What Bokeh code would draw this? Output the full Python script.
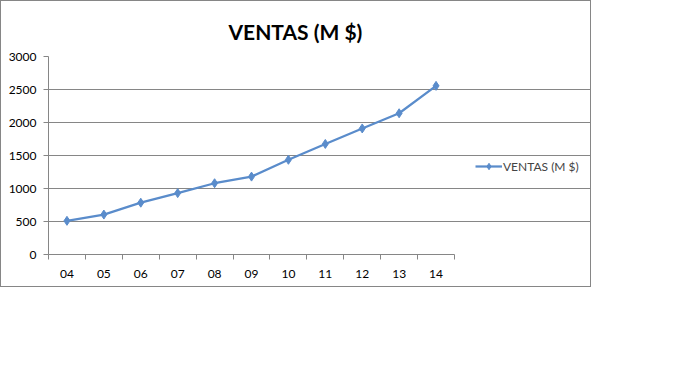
from bokeh.plotting import figure
from bokeh.models import FixedTicker, Legend, LegendItem, Range1d, Title
from bokeh.embed import file_html
from bokeh.resources import INLINE

years = ["04", "05", "06", "07", "08", "09", "10", "11", "12", "13", "14"]
ventas = [510, 605, 785, 930, 1080, 1180, 1435, 1675, 1910, 2140, 2555]
y_ticks = [0, 500, 1000, 1500, 2000, 2500, 3000]
series_name = "VENTAS (M $)"

FONT = "Lato"
GRID = "#868686"
BLUE = "#5A8CCB"

n = len(years)
xs = [i + 0.5 for i in range(n)]

# frame spans to the right edge so the legend (drawn inside it) is not clipped;
# the plotted area (axis, grid) is bounded to the 11 categories (406 px of 544 px)
x_end = n * 544 / 406

p = figure(width=591, height=287, output_backend="svg", toolbar_location=None,
           x_range=Range1d(0, x_end), y_range=Range1d(0, 3000),
           min_border_left=47, min_border_right=0, min_border_top=55, min_border_bottom=34)
p.outline_line_color = None
p.background_fill_color = "white"
p.border_fill_color = "white"
p.styles = {"border": "1px solid #868686"}

p.add_layout(Title(text=series_name, text_font=FONT, text_font_size="21px", text_font_style="bold",
                   text_color="black", align="left", offset=180, standoff=26), "above")

line = p.line(xs, ventas, line_color=BLUE, line_width=2.25)
pts = p.scatter(xs, ventas, marker="diamond", size=9, fill_color=BLUE, line_color=BLUE)

xt = FixedTicker(ticks=xs, minor_ticks=list(range(n + 1)))
p.xaxis.ticker = xt
p.xaxis.bounds = (0, n)
p.xaxis.major_label_overrides = {x: y for x, y in zip(xs, years)}
p.xaxis.major_tick_out = 0
p.xaxis.major_tick_in = 0
p.xaxis.minor_tick_out = 5
p.xaxis.minor_tick_in = 0
p.xaxis.minor_tick_line_color = GRID
p.xaxis.axis_line_color = GRID
p.xaxis.major_label_standoff = 10
p.xgrid.grid_line_color = None

p.yaxis.ticker = FixedTicker(ticks=y_ticks)
p.yaxis.major_tick_out = 5
p.yaxis.major_tick_in = 0
p.yaxis.minor_tick_line_color = None
p.yaxis.major_tick_line_color = GRID
p.yaxis.axis_line_color = GRID
p.yaxis.major_label_standoff = 7
p.ygrid.grid_line_color = GRID
p.ygrid.grid_line_width = 1
p.ygrid.bounds = (0, n)

for ax in (p.xaxis, p.yaxis):
    ax.major_label_text_font = FONT
    ax.major_label_text_font_size = "12px"
    ax.major_label_text_color = "black"

legend = Legend(items=[LegendItem(label=series_name, renderers=[line, pts])],
                location=(427, 80), padding=0, spacing=0, margin=0,
                glyph_width=27, glyph_height=16, label_standoff=1,
                label_text_font=FONT, label_text_font_size="12px",
                border_line_color=None, background_fill_alpha=0)
p.add_layout(legend, "center")

open("out.html", "w").write(file_html(p, INLINE))
